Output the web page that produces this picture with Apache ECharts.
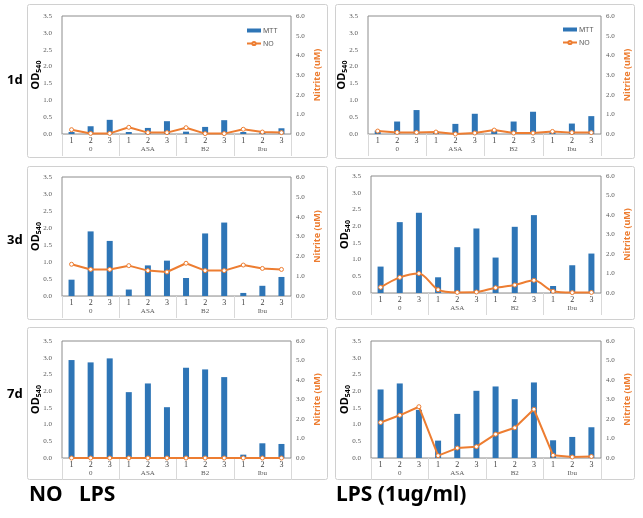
<!DOCTYPE html>
<html><head><meta charset="utf-8">
<script src="https://cdn.jsdelivr.net/npm/echarts@6/dist/echarts.min.js"></script>
<style>html,body{margin:0;padding:0;background:#fff}#c{width:643px;height:518px}</style>
</head><body><div id="c"></div>
<script>
// ---- data ----
const categories = ['1','2','3','1','2','3','1','2','3','1','2','3'];
const groups = ['0','ASA','B2','Ibu'];
const odTicks = [0, 3.5, 0.5];      // min, max, interval (OD540)
const nitriteTicks = [0, 6, 1];     // min, max, interval (Nitrite uM)
const rowLabels = ['1d','3d','7d'];
const bottomLabels = ['NO   LPS', 'LPS (1ug/ml)'];

const mtt1dNoLps = [0.06,0.23,0.42, 0.06,0.18,0.38, 0.07,0.21,0.41, 0.06,0.05,0.17];
const no1dNoLps  = [0.22,0.03,0.03, 0.34,0.07,0.07, 0.32,0.02,0.02, 0.24,0.10,0.07];
const mtt1dLps   = [0.10,0.37,0.71, 0.07,0.30,0.60, 0.11,0.37,0.66, 0.06,0.31,0.53];
const no1dLps    = [0.15,0.08,0.08, 0.10,0.00,0.05, 0.20,0.05,0.05, 0.13,0.07,0.07];
const mtt3dNoLps = [0.48,1.90,1.62, 0.19,0.90,1.04, 0.53,1.84,2.16, 0.09,0.30,0.56];
const no3dNoLps  = [1.60,1.34,1.34, 1.53,1.28,1.21, 1.65,1.28,1.28, 1.56,1.39,1.34];
const mtt3dLps   = [0.79,2.12,2.40, 0.47,1.37,1.93, 1.06,1.98,2.33, 0.21,0.83,1.18];
const no3dLps    = [0.29,0.80,1.00, 0.17,0.03,0.05, 0.27,0.41,0.65, 0.09,0.02,0.03];
const mtt7dNoLps = [2.93,2.86,2.98, 1.97,2.23,1.52, 2.70,2.65,2.42, 0.10,0.44,0.42];
const no7dNoLps  = [0,0,0, 0,0,0, 0,0,0, 0,0,0];
const mtt7dLps   = [2.05,2.23,1.44, 0.52,1.32,2.01, 2.14,1.76,2.26, 0.53,0.63,0.92];
const no7dLps    = [1.82,2.19,2.63, 0.12,0.51,0.58, 1.22,1.55,2.50, 0.14,0.05,0.08];

// ---- layout ----
const panels = [
  {mtt: mtt1dNoLps, no: no1dNoLps, left: 62,  top: 16,  width: 229, height: 118, frame: [27,4,300,153],  legend: [241,22]},
  {mtt: mtt1dLps,   no: no1dLps,   left: 368, top: 16,  width: 233, height: 118, frame: [335,4,299,154], legend: [557,21]},
  {mtt: mtt3dNoLps, no: no3dNoLps, left: 62,  top: 177, width: 229, height: 119, frame: [27,166,300,153]},
  {mtt: mtt3dLps,   no: no3dLps,   left: 371, top: 176, width: 230, height: 117, frame: [335,166,299,153], smooth: 0.3},
  {mtt: mtt7dNoLps, no: no7dNoLps, left: 62,  top: 341, width: 229, height: 117, frame: [27,327,300,152]},
  {mtt: mtt7dLps,   no: no7dLps,   left: 371, top: 341, width: 230, height: 117, frame: [335,327,299,152]}
];
const BLUE = '#2E75B6', ORANGE = '#ED7D31', SERIF = 'Liberation Serif', SANS = 'Noto Sans';

const grid = [], xAxis = [], yAxis = [], series = [], legend = [], graphic = [];
panels.forEach((p, i) => {
  grid.push({left: p.left, top: p.top, width: p.width, height: p.height,
    show: true, borderColor: '#8c8c8c', borderWidth: 1, backgroundColor: 'transparent', containLabel: false});
  xAxis.push({type: 'category', gridIndex: i, data: categories, position: 'bottom',
    axisLine: {show: true, lineStyle: {color: '#bfbfbf'}}, axisTick: {show: false},
    axisLabel: {interval: 0, margin: 3, fontFamily: SERIF, fontSize: 8, color: '#404040'}});
  xAxis.push({type: 'category', gridIndex: i, data: groups, position: 'bottom',
    axisLine: {show: false},
    axisTick: {show: true, interval: 0, length: 22, lineStyle: {color: '#d9d9d9'}},
    axisLabel: {interval: 0, margin: 12, fontFamily: SERIF, fontSize: 7, color: '#595959'}});
  yAxis.push({type: 'value', gridIndex: i, position: 'left', min: odTicks[0], max: odTicks[1], interval: odTicks[2],
    splitLine: {show: false}, axisLine: {show: false}, axisTick: {show: false},
    axisLabel: {margin: 10, fontFamily: SERIF, fontSize: 7, color: '#595959', formatter: v => v.toFixed(1)},
    name: 'OD{s|540}', nameLocation: 'middle', nameGap: 20, nameMoveOverlap: false,
    nameTextStyle: {fontFamily: SANS, fontSize: 11, fontWeight: 'bold', color: '#000',
      rich: {s: {fontFamily: SANS, fontSize: 7, fontWeight: 'bold', color: '#000', verticalAlign: 'bottom', padding: [6,0,0,0]}}}});
  yAxis.push({type: 'value', gridIndex: i, position: 'right', min: nitriteTicks[0], max: nitriteTicks[1], interval: nitriteTicks[2],
    splitLine: {show: false}, axisLine: {show: false}, axisTick: {show: false},
    axisLabel: {margin: 5, fontFamily: SERIF, fontSize: 7, color: '#595959', formatter: v => v.toFixed(1)},
    name: 'Nitrite (uM)', nameLocation: 'middle', nameGap: 22, nameRotate: 90,
    nameTextStyle: {fontFamily: SANS, fontSize: 9, fontWeight: 'bold', color: ORANGE}});
  series.push({name: 'MTT', type: 'bar', xAxisIndex: 2*i, yAxisIndex: 2*i, data: p.mtt,
    barWidth: 6, itemStyle: {color: BLUE}, z: 2});
  series.push({name: 'NO', type: 'line', xAxisIndex: 2*i, yAxisIndex: 2*i+1, data: p.no,
    smooth: p.smooth || false, symbol: 'circle', symbolSize: 4, showAllSymbol: true,
    lineStyle: {color: ORANGE, width: 2}, itemStyle: {color: '#fff', borderColor: ORANGE, borderWidth: 1}, z: 3});
  if (p.legend) {
    legend.push({left: p.legend[0], top: p.legend[1], orient: 'vertical', itemWidth: 14, itemHeight: 4, itemGap: 6,
      data: [{name: 'MTT', icon: 'rect'}, {name: 'NO'}],
      textStyle: {fontFamily: SANS, fontSize: 7, color: '#595959', padding: [0,0,0,-3]}});
  }
  graphic.push({type: 'rect', shape: {x: p.frame[0]+0.5, y: p.frame[1]+0.5, width: p.frame[2], height: p.frame[3], r: 2},
    style: {fill: 'none', stroke: '#d0d0d0', lineWidth: 1}, z: -1, silent: true});
});
const rowY = [82, 242, 396];
rowLabels.forEach((t, k) => graphic.push({type: 'text', left: 7, top: rowY[k] - 8,
  style: {text: t, fontFamily: SANS, fontSize: 13, fontWeight: 'bold', fill: '#000'}}));
graphic.push({type: 'text', left: 29, top: 485, style: {text: bottomLabels[0], fontFamily: SANS, fontSize: 21, fontWeight: 'bold', fill: '#000'}});
graphic.push({type: 'text', left: 336, top: 485, style: {text: bottomLabels[1], fontFamily: SANS, fontSize: 21, fontWeight: 'bold', fill: '#000'}});

const chart = echarts.init(document.getElementById('c'), null, {renderer: 'canvas'});
chart.setOption({animation: false, backgroundColor: '#fff', grid, xAxis, yAxis, series, legend, graphic});
</script></body></html>
